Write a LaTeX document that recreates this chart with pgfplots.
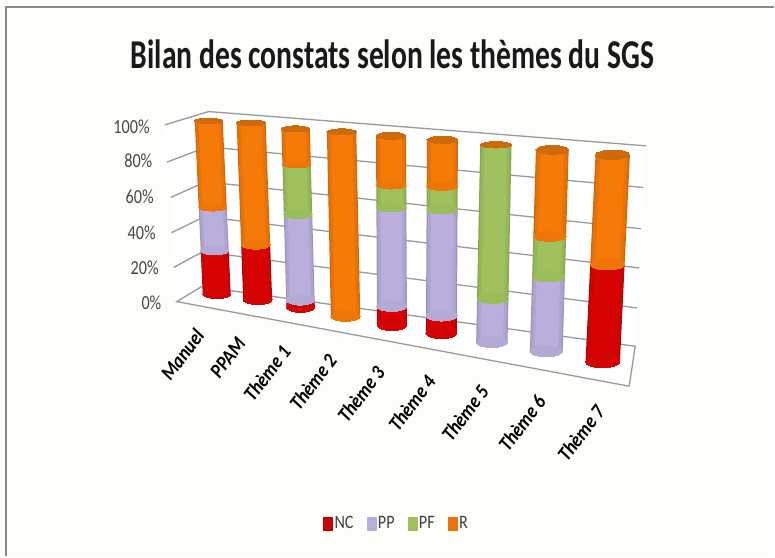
\documentclass[border=0pt]{standalone}
\usepackage{pgfplots}
\pgfplotsset{compat=1.18}
\usepackage{fontspec}
\setmainfont{Carlito}
\definecolor{bg}{HTML}{FDFEFA}
\definecolor{frameg}{HTML}{8A8C84}
\definecolor{gridg}{HTML}{9A9A9A}
\definecolor{cNC}{HTML}{D80404}
\definecolor{cPP}{HTML}{BAAEDC}
\definecolor{cPF}{HTML}{A0C25E}
\definecolor{cR}{HTML}{F57A08}
\definecolor{cTop}{HTML}{CC6A0C}
\newcommand\band[8]{% x0,y0,x1,y1,halfwidth,(unused),color,fraction
  \pgfmathsetmacro\bw{2*#5*#8}%
  \edef\tmp{\noexpand\addplot[forget plot,color=#7,line width=\bw pt,line cap=butt] coordinates {(#1,#2) (#3,#4)};}\tmp
}
\newcommand\ellip[5]{% x,y,half width,b,colour
  \pgfmathsetmacro\ys{#4/#3}%
  \edef\tmp{\noexpand\addplot[forget plot,only marks,mark=*,mark size=#3 pt,mark options={line width=0pt,draw=#5,fill=#5,yscale=\ys}] coordinates {(#1,#2)};}\tmp
}
\newcommand\seg[3]{% from %, to %, colour
  \ifdim #1pt<#2pt
    \pgfmathsetmacro\xa{\Xa+(\Xb-\Xa)*(#1/100)}%
    \pgfmathsetmacro\ya{\Ya+(\Yb-\Ya)*(#1/100)}%
    \pgfmathsetmacro\xb{\Xa+(\Xb-\Xa)*(#2/100)}%
    \pgfmathsetmacro\yb{\Ya+(\Yb-\Ya)*(#2/100)}%
    \pgfmathsetmacro\bb{\Ba+(\Bb-\Ba)*(#1/100)}%
    \ellip{\xa}{\ya}{\W}{\bb}{#3!97!black}%
    \band{\xa}{\ya}{\xb}{\yb}{\W}{\bb}{#3!85!black}{1}%
    \band{\xa}{\ya}{\xb}{\yb}{\W}{\bb}{#3!94!black}{0.92}%
    \band{\xa}{\ya}{\xb}{\yb}{\W}{\bb}{#3}{0.72}%
  \fi
}
% \cyl{x at 0%}{y at 0%}{x at 100%}{y at 100%}{half width}{b at 0%}{b at 100%}{NC}{PP}{PF}{R}
\newcommand\cyl[9]{%
  \def\Xa{#1}\def\Ya{#2}\def\Xb{#3}\def\Yb{#4}\def\W{#5}\def\Ba{#6}\def\Bb{#7}%
  \def\vNC{#8}\def\vPP{#9}\cylrest}
\newcommand\cylrest[2]{%
  \pgfmathsetmacro\cA{\vNC}%
  \pgfmathsetmacro\cB{\vNC+\vPP}%
  \pgfmathsetmacro\cC{\vNC+\vPP+#1}%
  \pgfmathsetmacro\cD{\vNC+\vPP+#1+#2}%
  \seg{0}{\cA}{cNC}%
  \seg{\cA}{\cB}{cPP}%
  \seg{\cB}{\cC}{cPF}%
  \seg{\cC}{\cD}{cR}%
  \ellip{\Xb}{\Yb}{\W}{\Bb}{cTop}%
}
\newcommand\xscl[2]{\scalebox{#1}[1]{#2}}
\begin{document}
\begin{tikzpicture}
\begin{axis}[
  width=775pt,height=557pt,scale only axis,hide axis,clip=false,
  xmin=0,xmax=775,ymin=0,ymax=557,y dir=reverse,
  legend style={at={(axis cs:397,524)},anchor=center,draw=none,fill=none,
    font=\fontsize{19}{20}\selectfont,text=black!75,/tikz/every even column/.style={column sep=11pt},inner sep=0pt,row sep=0pt},
  legend columns=4,
  legend image code/.code={\fill[#1] (-4.5pt,-6.5pt) rectangle (4.5pt,6.5pt);},
]
% page background and frame
\addplot[forget plot,fill=bg,draw=none] coordinates {(0,0) (775,0) (775,557) (0,557)};
\addplot[forget plot,color=frameg,line width=2pt] coordinates {(6.5,557) (6.5,7) (775,7)};
% walls and floor grid
\addplot[forget plot,fill=white,draw=none] coordinates {(209,112) (646.7,146) (636,346.7) (630,386.7) (177,302) (165,125)};
\addplot[forget plot,color=gridg,line width=1.3pt] coordinates {(165,125) (209,111.7) (646.7,146)};
\addplot[forget plot,color=gridg,line width=1.3pt] coordinates {(167.3,162.3) (207.5,147) (644,187.7)};
\addplot[forget plot,color=gridg,line width=1.3pt] coordinates {(171,197.7) (206,182) (641.7,229)};
\addplot[forget plot,color=gridg,line width=1.3pt] coordinates {(171.7,233) (204.5,217) (640,268.3)};
\addplot[forget plot,color=gridg,line width=1.3pt] coordinates {(174,267.7) (203,252) (637.7,308.3)};
\addplot[forget plot,color=gridg,line width=1.3pt] coordinates {(630,386.7) (177,302) (201.7,287) (636,346.7) (630,386.7)};
% cylinders: values in percent
\cyl{217}{294.5}{209}{121}{14}{4.5}{2.6}{25}{25}{0}{50}
\cyl{258}{300}{251.5}{123}{14.5}{5}{2.8}{31}{0}{0}{69}
\cyl{301}{307.5}{296}{129}{14.2}{5.2}{3}{4}{48}{28}{20}
\cyl{346}{316.5}{342}{132}{14.7}{5.2}{3}{0}{0}{0}{100}
\cyl{392.5}{325.5}{391.5}{136}{15}{5.4}{3.5}{10}{52}{12}{26}
\cyl{442}{333.5}{443}{140}{15.5}{5.5}{3.8}{9}{55}{12}{24}
\cyl{492.5}{342.5}{496.5}{145}{15.7}{5.5}{3.2}{0}{22}{78}{0}
\cyl{547}{351.5}{553}{150}{16.4}{5.7}{4.4}{0}{37}{20}{43}
\cyl{603.5}{362}{613.5}{155}{17.2}{6.2}{4.8}{47}{0}{0}{53}
% legend
\addlegendimage{cNC!90!black}\addlegendentry{\xscl{.85}{NC}}
\addlegendimage{cPP}\addlegendentry{\xscl{.85}{PP}}
\addlegendimage{cPF}\addlegendentry{\xscl{.85}{PF}}
\addlegendimage{cR!95!black}\addlegendentry{\xscl{.85}{R}}
% title
\node[font=\bfseries\fontsize{41}{43}\selectfont,text=black!90] at (axis cs:393,54) {\xscl{.723}{Bilan des constats selon les thèmes du SGS}};
% y labels
\foreach \yy/\xx/\lab in {127/150/100\%,161/152.7/80\%,197/154/60\%,233/156/40\%,268/159/20\%,303/161.7/0\%}{
  \edef\tmp{\noexpand\node[anchor=east,inner sep=0pt,font=\noexpand\fontsize{20}{21}\noexpand\selectfont,text=black!72] at (axis cs:\xx,\yy) {\noexpand\xscl{.81}{\lab}};}\tmp
}
% category labels
\foreach \xx/\yy/\lab in {200/332/Manuel,241.7/340/PPAM,286.7/348/Thème 1,332.7/357/Thème 2,380.7/369/Thème 3,431.7/378/Thème 4,485/388/Thème 5,542/398/Thème 6,601/408/Thème 7}{
  \edef\tmp{\noexpand\node[anchor=east,inner sep=0pt,rotate=53,font=\noexpand\bfseries\noexpand\itshape\noexpand\fontsize{20.5}{22}\noexpand\selectfont,text=black] at (axis cs:\xx,\yy) {\noexpand\xscl{.88}{\lab}};}\tmp
}
\end{axis}
\end{tikzpicture}
\end{document}
